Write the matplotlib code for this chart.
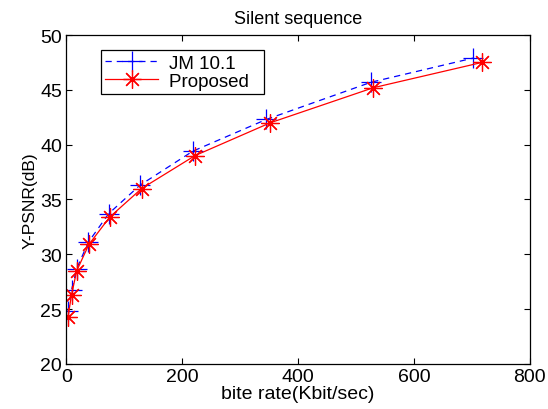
import matplotlib
matplotlib.use("Agg")
import matplotlib.pyplot as plt

plt.rcParams['font.family'] = ['Liberation Sans', 'DejaVu Sans']

jm_rate = [3, 9, 18, 38, 73, 127, 218, 345, 526, 702]
jm_psnr = [24.8, 26.7, 28.7, 31.1, 33.7, 36.3, 39.4, 42.3, 45.7, 47.9]
prop_rate = [3, 9, 18, 39, 75, 130, 222, 352, 530, 717]
prop_psnr = [24.3, 26.3, 28.5, 30.9, 33.4, 36.0, 39.0, 42.0, 45.2, 47.5]

xticks = [0, 200, 400, 600, 800]
yticks = [20, 25, 30, 35, 40, 45, 50]

fig = plt.figure(figsize=(5.48, 4.10), dpi=100)
ax = fig.add_axes([0.121, 0.110, 0.846, 0.802])

ax.plot(jm_rate, jm_psnr, color='blue', linestyle='--', linewidth=0.9,
        marker='+', markersize=14, markeredgewidth=0.9, label='JM 10.1  ',
        dashes=(5, 4))
ax.plot(prop_rate, prop_psnr, color='red', linestyle='-', linewidth=0.9,
        marker=(8, 2, 0), markersize=13, markeredgewidth=0.9, label='Proposed  ')

ax.set_xlim(0, 800)
ax.set_ylim(20, 50)
ax.set_xticks(xticks)
ax.set_yticks(yticks)
ax.tick_params(direction='in', top=True, right=True, labelsize=14, length=4,
               width=0.8, pad=3)
for s in ax.spines.values():
    s.set_linewidth(0.9)

ax.set_title('Silent sequence', fontsize=13, pad=9)
ax.set_xlabel('bite rate(Kbit/sec)', fontsize=14, labelpad=0)
ax.set_ylabel('Y-PSNR(dB)', fontsize=12.5, labelpad=2)

leg = ax.legend(loc='upper left', bbox_to_anchor=(0.074, 0.955), fontsize=13.5,
                frameon=True, fancybox=False, edgecolor='black', framealpha=1,
                handlelength=2.8, borderpad=0.25, labelspacing=0.05,
                handletextpad=0.6, borderaxespad=0)
leg.get_frame().set_linewidth(0.9)

fig.savefig('out.png', dpi=100)
